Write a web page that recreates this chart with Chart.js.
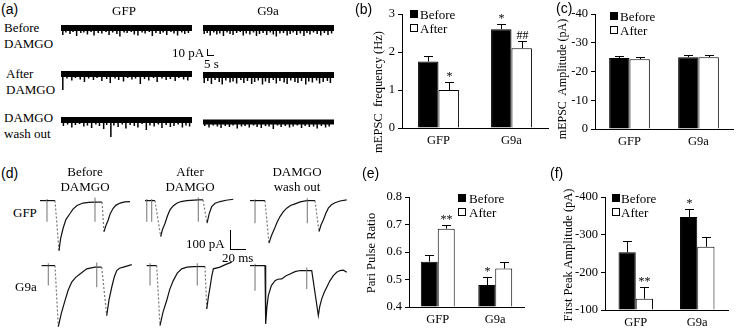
<!DOCTYPE html>
<html><head><meta charset="utf-8">
<script src="https://cdn.jsdelivr.net/npm/chart.js@4.4.0/dist/chart.umd.min.js"></script>
<style>
html,body{margin:0;padding:0;background:#fff;}
#fig{position:relative;width:739px;height:331px;overflow:hidden;font-family:"Liberation Serif",serif;color:#000;background:#fff;}
canvas{position:absolute;}
.t{position:absolute;white-space:nowrap;line-height:1;font-size:13px;z-index:5;}
.c{transform:translateX(-50%);text-align:center;}
.sans{font-family:"Liberation Sans",Arial,sans-serif;font-size:14px;}
.yt{position:absolute;transform:translate(-50%,-50%) rotate(-90deg);white-space:nowrap;font-size:12.5px;line-height:1;z-index:5;}
.sq{position:absolute;width:8px;height:8px;box-sizing:border-box;border:1px solid #000;z-index:5;}
.sb{position:absolute;background:#000;z-index:5;}
</style></head>
<body>
<div id="fig">
  <!-- panel letters -->
  <div class="t sans" style="left:1px;top:2px">(a)</div>
  <div class="t sans" style="left:355px;top:2px">(b)</div>
  <div class="t sans" style="left:556px;top:1px">(c)</div>
  <div class="t sans" style="left:1px;top:166px">(d)</div>
  <div class="t sans" style="left:362px;top:166px">(e)</div>
  <div class="t sans" style="left:550px;top:166px">(f)</div>

  <!-- panel a labels -->
  <div class="t c" style="left:124px;top:4px">GFP</div>
  <div class="t c" style="left:268px;top:4px">G9a</div>
  <div class="t" style="left:4px;top:21px">Before</div>
  <div class="t" style="left:4px;top:37px">DAMGO</div>
  <div class="t" style="left:6px;top:67px">After</div>
  <div class="t" style="left:6px;top:83px">DAMGO</div>
  <div class="t" style="left:4px;top:111px">DAMGO</div>
  <div class="t" style="left:4px;top:127px">wash out</div>
  <div class="t" style="left:172px;top:46px">10 pA</div>
  <div class="t" style="left:204px;top:57px">5 s</div>
  <div class="sb" style="left:207px;top:49px;width:1px;height:7px"></div>
  <div class="sb" style="left:207px;top:55px;width:7px;height:1px"></div>

  <!-- panel d labels -->
  <div class="t c" style="left:85px;top:165px">Before</div>
  <div class="t c" style="left:85px;top:180px">DAMGO</div>
  <div class="t c" style="left:190px;top:165px">After</div>
  <div class="t c" style="left:190px;top:180px">DAMGO</div>
  <div class="t c" style="left:297px;top:165px">DAMGO</div>
  <div class="t c" style="left:297px;top:180px">wash out</div>
  <div class="t" style="left:13px;top:206px">GFP</div>
  <div class="t" style="left:15px;top:280px">G9a</div>
  <div class="t" style="left:186px;top:237px">100 pA</div>
  <div class="t" style="left:222px;top:251px">20 ms</div>
  <div class="sb" style="left:230px;top:230px;width:1px;height:20px"></div>
  <div class="sb" style="left:230px;top:249px;width:16px;height:1px"></div>

  <!-- axis titles -->
  <div class="yt" style="left:378px;top:92px">mEPSC&nbsp; frequency (Hz)</div>
  <div class="yt" style="left:562px;top:79px;font-size:12px">mEPSC&nbsp; Amplitude (pA)</div>
  <div class="yt" style="left:371px;top:253px">Pari Pulse Ratio</div>
  <div class="yt" style="left:568px;top:255px">First Peak Amplitude (pA)</div>

  <!-- legends -->
  <div class="sq" style="left:410px;top:10px;background:#000"></div>
  <div class="t" style="left:420px;top:8px">Before</div>
  <div class="sq" style="left:410px;top:24px;background:#fff"></div>
  <div class="t" style="left:420px;top:22px">After</div>

  <div class="sq" style="left:610px;top:12px;background:#000"></div>
  <div class="t" style="left:620px;top:10px">Before</div>
  <div class="sq" style="left:610px;top:26px;background:#fff"></div>
  <div class="t" style="left:620px;top:24px">After</div>

  <div class="sq" style="left:458px;top:194px;background:#000"></div>
  <div class="t" style="left:469px;top:192px">Before</div>
  <div class="sq" style="left:458px;top:208px;background:#fff"></div>
  <div class="t" style="left:469px;top:206px">After</div>

  <div class="sq" style="left:612px;top:194px;background:#000"></div>
  <div class="t" style="left:621px;top:192px">Before</div>
  <div class="sq" style="left:612px;top:208px;background:#fff"></div>
  <div class="t" style="left:621px;top:206px">After</div>
</div>
<script>
// ================= DATA =================
const groups = ['GFP', 'G9a'];
const seriesNames = ['Before', 'After'];

// (b) mEPSC frequency (Hz)
const freqBefore = [1.75, 2.6];
const freqBeforeErr = [0.15, 0.15];
const freqAfter = [1.0, 2.1];
const freqAfterErr = [0.2, 0.2];
const freqSigBefore = ['', '*'];
const freqSigAfter = ['*', '##'];
const freqTicks = [0, 1, 2, 3];

// (c) mEPSC amplitude (pA)
const ampBefore = [-24.7, -25.0];
const ampBeforeErr = [0.8, 0.8];
const ampAfter = [-24.3, -25.0];
const ampAfterErr = [0.7, 0.8];
const ampSigBefore = ['', ''];
const ampSigAfter = ['', ''];
const ampTicks = [-40, -30, -20, -10, 0];

// (e) paired pulse ratio
const ppBefore = [0.565, 0.48];
const ppBeforeErr = [0.025, 0.03];
const ppAfter = [0.685, 0.54];
const ppAfterErr = [0.012, 0.022];
const ppSigBefore = ['', '*'];
const ppSigAfter = ['**', ''];
const ppTicks = [0.4, 0.5, 0.6, 0.7, 0.8];

// (f) first peak amplitude (pA)
const peakBefore = [-253, -347];
const peakBeforeErr = [30, 20];
const peakAfter = [-130, -268];
const peakAfterErr = [30, 25];
const peakSigBefore = ['', '*'];
const peakSigAfter = ['**', ''];
const peakTicks = [-400, -300, -200, -100];

// (a) mEPSC traces: recording time (s) of events and their amplitude (pA)
const aDuration = 109;
const aGfpBeforeT = [1.5,4,7.5,10,13,16.5,19,22,25,27.5,31,34,37.5,40,43,46.5,49,52.5,55,58.5,61,64,67.5,70,73.5,76,79,82.5,85,88,91.5,94,97,100.5,103,106];
const aGfpBeforeA = [-14,-9,-12,-8,-16,-10,-9,-13,-8,-15,-10,-11,-8,-14,-9,-12,-17,-9,-10,-8,-13,-15,-9,-11,-8,-16,-10,-12,-9,-14,-8,-11,-15,-9,-12,-10];
const aG9aBeforeT = [1,3.5,6,9,11.5,14,17,20,22.5,25,28,31,33.5,36,39,42,44.5,47,50,53,56,58.5,61,64,67,70,72.5,75,78,81,84,86.5,89,92,95,98,101,104,107];
const aG9aBeforeA = [-12,-10,-15,-9,-13,-11,-16,-9,-12,-14,-10,-8,-15,-11,-13,-9,-16,-12,-10,-14,-9,-13,-17,-11,-10,-15,-12,-9,-14,-11,-16,-10,-13,-9,-12,-15,-10,-14,-11];
const aGfpAfterT = [1.5,5,9,12,16,19.5,23,27,30,34,38,41,45,48,52,55.5,59,62,66,69.5,73,77,80,84,87.5,91,95,98,102,105.5];
const aGfpAfterA = [-32,-9,-13,-8,-11,-16,-9,-12,-8,-14,-10,-18,-9,-12,-15,-8,-11,-9,-20,-10,-13,-8,-16,-9,-12,-10,-14,-8,-11,-13];
const aG9aAfterT = [1,4,7,10,13.5,16,19,22.5,25,28,31.5,34,37,40.5,43,46,49.5,52,55,58.5,61,64,67.5,70,73,76.5,79,82,85.5,88,91,94.5,97,100,103.5,106];
const aG9aAfterA = [-16,-12,-18,-10,-14,-19,-11,-15,-13,-17,-10,-16,-12,-18,-14,-11,-19,-13,-16,-10,-17,-12,-15,-18,-11,-14,-16,-12,-19,-13,-15,-11,-17,-14,-12,-16];
const aGfpWashT = [2,5.5,9,12,15.5,19,22,25.5,29,32,35.5,38,41.5,44,47.5,51,54,57.5,61,64,67.5,71,74,77.5,81,84,87.5,91,94,97.5,101,104,107];
const aGfpWashA = [-12,-9,-15,-10,-8,-13,-11,-16,-9,-12,-18,-10,-34,-11,-14,-9,-17,-10,-12,-15,-8,-20,-11,-13,-9,-16,-10,-14,-12,-9,-15,-11,-13];
const aG9aWashT = [1.5,5,8.5,12,15,18.5,22,25,28.5,32,35,38.5,42,45,48.5,52,55,58.5,62,65,68.5,72,75,78.5,82,85,88.5,92,95,98.5,102,105];
const aG9aWashA = [-8,-11,-7,-9,-12,-8,-10,-7,-13,-9,-8,-11,-7,-10,-12,-8,-9,-14,-7,-10,-8,-11,-9,-7,-12,-8,-10,-9,-13,-8,-11,-9];

// (d) evoked EPSC traces: time (ms) and current (pA)
const dGfpBeforeT = [0,9.3,9.3,9.3,9.3,20,25.3,27.5,30.7,34.5,40,44,49.3,57.3,65,73.3,73.3,73.3,73.3,82.7,85.3,88,90.7,93.5,97.3,101,106.7,113,120];
const dGfpBeforeI = [0,0,8,-111,0,0,-263,-200,-147,-100,-68,-45,-26,-13,-9,-8,16,-111,-8,-8,-163,-130,-105,-70,-42,-25,-13,-7,-5];
const dGfpAfterT = [0,2.3,2.3,2.3,2.3,8.9,8.9,8.9,8.9,13.3,20.9,23.5,26.7,30,33.3,37.5,42.3,48,55.6,71.1,71.1,71.1,71.1,77.3,82.7,85.5,88.9,93.5,100,108,117.7];
const dGfpAfterI = [0,0,8,-111,0,0,8,-111,0,0,-189,-150,-119,-80,-49,-28,-14,-5,0,4,16,-111,4,4,-119,-70,-32,-14,-5,2,7];
const dGfpWashT = [0,6.7,6.7,6.7,6.7,20,25.3,28.5,32,36,40,44.5,48.9,54,60,67,75.6,76.4,76.4,76.4,76.4,86.7,92,94.5,97.7,101,104.4,108.5,113.3,120,128.9];
const dGfpWashI = [0,0,7,-119,0,0,-224,-185,-154,-115,-84,-58,-40,-26,-17,-7,0,0,12,-119,0,0,-163,-130,-102,-68,-40,-22,-11,-2,4];
const dG9aBeforeT = [2.2,11.1,11.1,11.1,11.1,20,24.4,28.5,33.3,37.5,42.3,47.5,53.3,62.3,73.3,75.6,75.6,75.6,75.6,82.3,88.9,92,95.6,99,102.3,106,111.1,122.3];
const dG9aBeforeI = [0,0,12,-105,0,0,-321,-250,-184,-130,-87,-62,-44,-17,-8,-8,16,-114,-8,-8,-263,-180,-114,-60,-26,-14,-8,5];
const dG9aAfterT = [2.2,6.7,6.7,6.7,6.7,15.6,20,24,28.9,33,37.7,43,48.9,56,64.4,69.7,69.7,69.7,69.7,80,82.3,84.5,86.7,89,91.1,100,107,115.6];
const dG9aAfterI = [0,0,12,-105,0,0,-316,-245,-184,-125,-79,-40,-17,-8,-5,-5,12,-105,-5,-5,-228,-165,-114,-55,-17,-8,5,18];
const dG9aWashT = [0,6.7,6.7,6.7,6.7,20,20.9,22.5,24.4,28.5,33.3,37,42.3,47.5,53.3,60,66.7,75.6,75.6,75.6,75.6,82.3,91.1,93,95.6,99,102.3,106.5,111.1,115.5,120,124.5,128.9];
const dG9aWashI = [0,0,10,-132,0,0,-307,-220,-158,-105,-79,-72,-70,-55,-44,-32,-26,-26,-10,-123,-26,-26,-263,-215,-175,-140,-114,-80,-53,-35,-26,-24,-35];

// ================= RENDERING =================
Chart.defaults.font.family = '"Liberation Serif", "Times New Roman", serif';
Chart.defaults.color = '#000';
const fig = document.getElementById('fig');

function makeCanvas(left, top, w, h) {
  const cv = document.createElement('canvas');
  cv.width = w; cv.height = h;
  cv.style.left = left + 'px'; cv.style.top = top + 'px';
  cv.style.width = w + 'px'; cv.style.height = h + 'px';
  fig.appendChild(cv);
  return cv;
}

const errPlugin = {
  id: 'errbars',
  afterDatasetsDraw(chart) {
    const ctx = chart.ctx, ys = chart.scales.y;
    chart.data.datasets.forEach((ds, di) => {
      const meta = chart.getDatasetMeta(di);
      meta.data.forEach((bar, i) => {
        const v = ds.data[i], e = ds.errors[i], b = ds.base;
        const top = v + (v < b ? -e : e);
        const yv = ys.getPixelForValue(v), yt = Math.round(ys.getPixelForValue(top));
        const x = Math.round(bar.x);
        ctx.save();
        ctx.strokeStyle = '#000'; ctx.lineWidth = 1;
        ctx.beginPath();
        ctx.moveTo(x + 0.5, yv); ctx.lineTo(x + 0.5, yt + 0.5);
        ctx.moveTo(x - 4, yt + 0.5); ctx.lineTo(x + 5, yt + 0.5);
        ctx.stroke();
        if (ds.sig[i]) {
          ctx.fillStyle = '#000';
          ctx.font = '12px "Liberation Serif"';
          ctx.textAlign = 'center'; ctx.textBaseline = 'bottom';
          ctx.fillText(ds.sig[i], x + 0.5, yt + 1);
        }
        ctx.restore();
      });
    });
  }
};

function barChart(c) {
  const cv = makeCanvas(c.left, c.top, c.w, c.h);
  return new Chart(cv, {
    type: 'bar',
    data: {
      labels: groups,
      datasets: [
        { label: seriesNames[0], data: c.before, errors: c.beforeErr, sig: c.sigB, base: c.base,
          backgroundColor: '#000', borderColor: '#000', borderWidth: 1 },
        { label: seriesNames[1], data: c.after, errors: c.afterErr, sig: c.sigA, base: c.base,
          backgroundColor: '#fff', borderColor: '#000', borderWidth: 1 }
      ]
    },
    options: {
      responsive: false, animation: false, devicePixelRatio: 1, events: [],
      layout: { padding: { left: 0, right: c.padRight, top: c.padTop, bottom: 0 } },
      plugins: { legend: { display: false }, tooltip: { enabled: false } },
      datasets: { bar: { categoryPercentage: c.catPct, barPercentage: 1 } },
      scales: {
        x: {
          grid: { drawOnChartArea: false, drawTicks: false },
          border: { color: '#000', width: 1 },
          ticks: { color: '#000', font: { size: 12.5 }, padding: c.xPad },
          afterFit: s => { s.height = c.xHeight; }
        },
        y: {
          min: Math.min(...c.ticks),
          max: Math.max(...c.ticks),
          reverse: c.reverse,
          afterBuildTicks: s => { s.ticks = c.ticks.map(v => ({ value: v })); },
          grid: { drawOnChartArea: false, drawTicks: true, tickLength: 4, color: '#000' },
          border: { color: '#000', width: 1 },
          ticks: { color: '#000', font: { size: 12.5 }, padding: 3, callback: c.fmt },
          afterFit: s => { s.width = c.yWidth; }
        }
      }
    },
    plugins: [errPlugin]
  });
}

barChart({ left: 370, top: 0, w: 185, h: 160, yWidth: 32, xHeight: 32, padTop: 14, padRight: 7, xPad: 5,
  before: freqBefore, beforeErr: freqBeforeErr, after: freqAfter, afterErr: freqAfterErr,
  sigB: freqSigBefore, sigA: freqSigAfter, base: 0, ticks: freqTicks, reverse: false, catPct: 0.56,
  fmt: v => String(v) });
barChart({ left: 555, top: 0, w: 184, h: 160, yWidth: 40, xHeight: 31, padTop: 14, padRight: 6, xPad: 5,
  before: ampBefore, beforeErr: ampBeforeErr, after: ampAfter, afterErr: ampAfterErr,
  sigB: ampSigBefore, sigA: ampSigAfter, base: 0, ticks: ampTicks, reverse: true, catPct: 0.59,
  fmt: v => String(v) });
barChart({ left: 365, top: 165, w: 190, h: 166, yWidth: 44, xHeight: 24, padTop: 32, padRight: 31, xPad: 5,
  before: ppBefore, beforeErr: ppBeforeErr, after: ppAfter, afterErr: ppAfterErr,
  sigB: ppSigBefore, sigA: ppSigAfter, base: 0.4, ticks: ppTicks, reverse: false, catPct: 0.59,
  fmt: v => Number(v).toFixed(1) });
barChart({ left: 560, top: 165, w: 179, h: 166, yWidth: 45, xHeight: 21, padTop: 32, padRight: 11, xPad: 5,
  before: peakBefore, beforeErr: peakBeforeErr, after: peakAfter, afterErr: peakAfterErr,
  sigB: peakSigBefore, sigA: peakSigAfter, base: -100, ticks: peakTicks, reverse: true, catPct: 0.56,
  fmt: v => String(v) });

// ---- (a) spontaneous traces ----
function aTrace(left, top, T, A, bandW) {
  const cv = makeCanvas(left, top, 131, 28);
  const spikes = [];
  T.forEach((t, i) => { spikes.push({ x: t, y: 0 }, { x: t, y: A[i] }, { x: t, y: null }); });
  new Chart(cv, {
    type: 'scatter',
    data: { datasets: [
      { data: [{ x: 0, y: 0 }, { x: aDuration, y: 0 }], showLine: true, borderColor: '#000', borderWidth: bandW, pointRadius: 0 },
      { data: spikes, showLine: true, spanGaps: false, borderColor: '#000', borderWidth: 1.5, pointRadius: 0 }
    ]},
    options: {
      responsive: false, animation: false, devicePixelRatio: 1, events: [],
      layout: { padding: 0 },
      plugins: { legend: { display: false }, tooltip: { enabled: false } },
      scales: { x: { type: 'linear', display: false, min: 0, max: aDuration },
                y: { display: false, min: -36, max: 20 } }
    }
  });
}
aTrace(61, 18, aGfpBeforeT, aGfpBeforeA, 6);
aTrace(203, 18, aG9aBeforeT, aG9aBeforeA, 6);
aTrace(61, 64, aGfpAfterT, aGfpAfterA, 6);
aTrace(203, 65, aG9aAfterT, aG9aAfterA, 6);
aTrace(61, 110, aGfpWashT, aGfpWashA, 6);
aTrace(203, 112, aG9aWashT, aG9aWashA, 5);

// ---- (d) evoked traces ----
function dTrace(left, top, T, I, dashDrops) {
  const cv = makeCanvas(left, top, 100, 72);
  const pts = T.map((t, i) => ({ x: t, y: I[i] }));
  const isArt = c => Math.abs(c.p1.parsed.x - c.p0.parsed.x) < 0.01;
  const isDrop = c => !isArt(c) && (c.p1.parsed.y - c.p0.parsed.y) / (c.p1.parsed.x - c.p0.parsed.x) < -15;
  new Chart(cv, {
    type: 'scatter',
    data: { datasets: [{
      data: pts, showLine: true, borderColor: '#111', borderWidth: 1.2, pointRadius: 0,
      segment: {
        borderColor: c => isArt(c) ? '#8a8a8a' : (isDrop(c) && dashDrops ? '#777' : undefined),
        borderDash: c => (isDrop(c) && dashDrops) ? [2, 2] : undefined
      }
    }]},
    options: {
      responsive: false, animation: false, devicePixelRatio: 1, events: [],
      layout: { padding: 0 },
      plugins: { legend: { display: false }, tooltip: { enabled: false } },
      scales: { x: { type: 'linear', display: false, min: 0, max: 133.3 },
                y: { display: false, min: -339, max: 40 } }
    }
  });
}
dTrace(40, 193, dGfpBeforeT, dGfpBeforeI, true);
dTrace(145, 193, dGfpAfterT, dGfpAfterI, true);
dTrace(250, 193, dGfpWashT, dGfpWashI, true);
dTrace(40, 258, dG9aBeforeT, dG9aBeforeI, true);
dTrace(145, 258, dG9aAfterT, dG9aAfterI, true);
dTrace(250, 258, dG9aWashT, dG9aWashI, false);
</script>
</body></html>
